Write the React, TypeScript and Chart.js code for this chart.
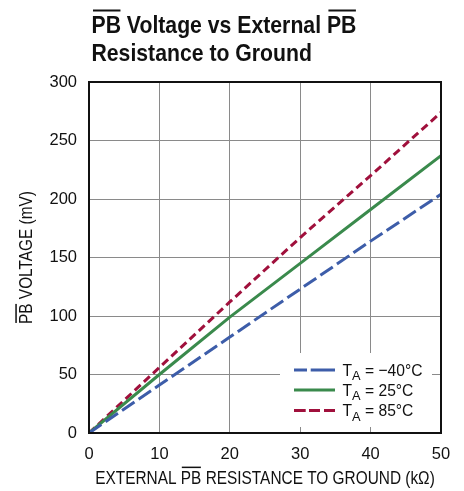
import React, { useEffect, useRef } from 'react';
import { Chart, registerables } from 'chart.js';

Chart.register(...registerables);

// ---- Data ----
const resistanceKOhm = [0, 10, 20, 30, 40, 50];
const pbVoltageMinus40 = [0, 41, 82, 123, 164, 204];
const pbVoltage25 = [0, 50, 99, 145, 191, 237];
const pbVoltage85 = [0, 56, 112, 167, 220, 274];
const xTickValues = [0, 10, 20, 30, 40, 50];
const yTickValues = [0, 50, 100, 150, 200, 250, 300];
const seriesLabels = ['−40°C', '25°C', '85°C'];

const FONT = '"Liberation Sans", Arial, sans-serif';
const BLUE = '#3d5da9';
const GREEN = '#3a8a4c';
const RED = '#a0103c';

function setFont(ctx: CanvasRenderingContext2D, size: number, bold: boolean) {
  ctx.font = `${bold ? 'bold ' : ''}${size}px ${FONT}`;
}

function measure(ctx: CanvasRenderingContext2D, text: string, size: number, bold: boolean, sx: number) {
  ctx.save();
  setFont(ctx, size, bold);
  const w = ctx.measureText(text).width * sx;
  ctx.restore();
  return w;
}

function drawScaled(
  ctx: CanvasRenderingContext2D,
  text: string,
  x: number,
  y: number,
  size: number,
  bold: boolean,
  sx: number,
  align: 'left' | 'center' | 'right' = 'left'
) {
  const w = measure(ctx, text, size, bold, sx);
  let left = x;
  if (align === 'center') left = x - w / 2;
  else if (align === 'right') left = x - w;
  ctx.save();
  setFont(ctx, size, bold);
  ctx.translate(left, y);
  ctx.scale(sx, 1);
  ctx.textAlign = 'left';
  ctx.textBaseline = 'alphabetic';
  ctx.fillText(text, 0, 0);
  ctx.restore();
  return { left, w };
}

const decorPlugin = {
  id: 'decor',
  afterDatasetsDraw(chart: any) {
    const ctx: CanvasRenderingContext2D = chart.ctx;
    const a = chart.chartArea;
    // frame
    ctx.save();
    ctx.strokeStyle = '#111';
    ctx.lineWidth = 2;
    ctx.strokeRect(a.left, a.top, a.right - a.left, a.bottom - a.top);
    ctx.restore();

    // legend box
    ctx.save();
    ctx.fillStyle = '#fff';
    ctx.fillRect(280, 353, 152, 74);
    const rows = [
      { color: BLUE, segs: [[294, 307], [310.7, 335]], y: 370 },
      { color: GREEN, segs: [[294, 335]], y: 390 },
      { color: RED, segs: [[294, 305.7], [309, 320], [324, 335]], y: 410.5 },
    ];
    rows.forEach((r, i) => {
      ctx.strokeStyle = r.color;
      ctx.lineWidth = 3;
      ctx.lineCap = 'butt';
      r.segs.forEach(([x1, x2]) => {
        ctx.beginPath();
        ctx.moveTo(x1, r.y);
        ctx.lineTo(x2, r.y);
        ctx.stroke();
      });
      ctx.fillStyle = '#111';
      const base = r.y + 5.5;
      const sx = 0.92;
      const t = drawScaled(ctx, 'T', 342.5, base, 17, false, sx);
      const sub = drawScaled(ctx, 'A', t.left + t.w, base + 4.5, 13.5, false, 0.95);
      drawScaled(ctx, ' = ' + seriesLabels[i], sub.left + sub.w, base, 17, false, sx);
    });
    ctx.restore();
  },
  afterDraw(chart: any) {
    const ctx: CanvasRenderingContext2D = chart.ctx;
    const a = chart.chartArea;
    ctx.save();
    ctx.fillStyle = '#111';

    // Title
    const tsx = 0.884;
    const tSize = 24;
    const line1 = 'PB Voltage vs External PB';
    const l1 = drawScaled(ctx, line1, 91.5, 33, tSize, true, tsx);
    const wPB = measure(ctx, 'PB', tSize, true, tsx);
    ctx.fillRect(l1.left + 1.5, 9.5, wPB - 2, 2);
    const off2 = measure(ctx, 'PB Voltage vs External ', tSize, true, tsx);
    ctx.fillRect(l1.left + off2 + 1.5, 9.5, wPB - 2, 2);
    drawScaled(ctx, 'Resistance to Ground', 91.5, 61, tSize, true, tsx);

    // X axis title
    const aSize = 17.5;
    const asx = 0.88;
    const xt = 'EXTERNAL PB RESISTANCE TO GROUND (kΩ)';
    const cx = (a.left + a.right) / 2;
    const xr = drawScaled(ctx, xt, cx, 483.5, aSize, false, asx, 'center');
    const offX = measure(ctx, 'EXTERNAL ', aSize, false, asx);
    const wPBa = measure(ctx, 'PB', aSize, false, asx);
    ctx.fillRect(xr.left + offX + 1, 466.6, wPBa - 1.5, 1.5);

    // Y axis title
    ctx.save();
    ctx.translate(31.5, (a.top + a.bottom) / 2);
    ctx.rotate(-Math.PI / 2);
    const yt = 'PB VOLTAGE (mV)';
    const yr = drawScaled(ctx, yt, 0, 0, aSize, false, asx, 'center');
    ctx.fillRect(yr.left + 1, -16.2, wPBa - 1.5, 1.5);
    ctx.restore();

    ctx.restore();
  },
};

export default function App() {
  const ref = useRef<HTMLCanvasElement | null>(null);

  useEffect(() => {
    if (!ref.current) return;
    const tickFont = { family: FONT, size: 16.5 };
    const chart = new Chart(ref.current, {
      type: 'line',
      data: {
        datasets: [
          {
            label: 'TA = −40°C',
            data: resistanceKOhm.map((x, i) => ({ x, y: pbVoltageMinus40[i] })),
            borderColor: BLUE,
            borderWidth: 3,
            borderDash: [15, 5],
            pointRadius: 0,
            fill: false,
          },
          {
            label: 'TA = 25°C',
            data: resistanceKOhm.map((x, i) => ({ x, y: pbVoltage25[i] })),
            borderColor: GREEN,
            borderWidth: 3,
            pointRadius: 0,
            fill: false,
          },
          {
            label: 'TA = 85°C',
            data: resistanceKOhm.map((x, i) => ({ x, y: pbVoltage85[i] })),
            borderColor: RED,
            borderWidth: 3,
            borderDash: [8, 4.5],
            pointRadius: 0,
            fill: false,
          },
        ],
      },
      options: {
        responsive: false,
        maintainAspectRatio: false,
        animation: false,
        layout: { padding: { top: 82, right: 23, left: 0, bottom: 0 } },
        plugins: {
          legend: { display: false },
          tooltip: { enabled: false },
          title: { display: false },
        },
        elements: { line: { tension: 0 }, point: { radius: 0 } },
        scales: {
          x: {
            type: 'linear',
            min: 0,
            max: 50,
            afterBuildTicks: (s: any) => {
              s.ticks = xTickValues.map((v) => ({ value: v }));
            },
            afterFit: (s: any) => {
              s.height = 58;
            },
            grid: { color: '#8a8a8a', lineWidth: 1, drawTicks: false },
            border: { display: false },
            ticks: {
              padding: 12,
              color: '#111',
              font: tickFont,
              maxRotation: 0,
              autoSkip: false,
            },
          },
          y: {
            type: 'linear',
            min: 0,
            max: 300,
            afterBuildTicks: (s: any) => {
              s.ticks = yTickValues.map((v) => ({ value: v }));
            },
            afterFit: (s: any) => {
              s.width = 89;
            },
            grid: { color: '#8a8a8a', lineWidth: 1, drawTicks: false },
            border: { display: false },
            ticks: {
              padding: 12,
              color: '#111',
              font: tickFont,
              autoSkip: false,
            },
          },
        },
      },
      plugins: [decorPlugin],
    } as any);
    return () => chart.destroy();
  }, []);

  return (
    <div style={{ position: 'fixed', left: 0, top: 0, width: 464, height: 491, background: '#fff' }}>
      <canvas ref={ref} width={464} height={491} style={{ width: 464, height: 491, display: 'block' }} />
    </div>
  );
}
